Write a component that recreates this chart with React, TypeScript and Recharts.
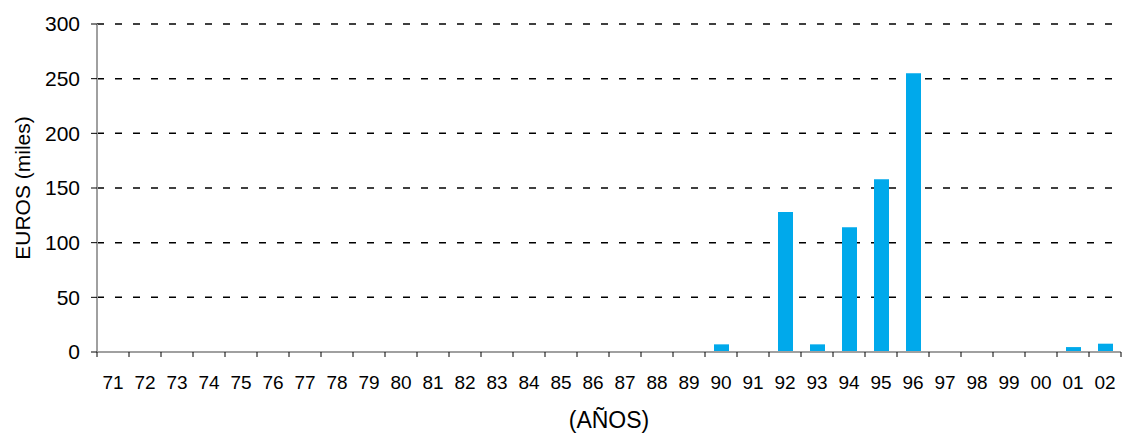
import { BarChart, Bar, XAxis, YAxis, CartesianGrid } from 'recharts'

const years = [
  '71', '72', '73', '74', '75', '76', '77', '78', '79', '80',
  '81', '82', '83', '84', '85', '86', '87', '88', '89', '90',
  '91', '92', '93', '94', '95', '96', '97', '98', '99', '00',
  '01', '02',
]
const euros = [
  0, 0, 0, 0, 0, 0, 0, 0, 0, 0,
  0, 0, 0, 0, 0, 0, 0, 0, 0, 7,
  0, 128, 7, 114, 158, 255, 0, 0, 0, 0,
  4.5, 7.6,
]
const yTicks = [0, 50, 100, 150, 200, 250, 300]

const data = years.map((y, i) => ({ year: y, value: euros[i] }))

const W = 1123
const H = 436
const PLOT_LEFT = 97
const PLOT_RIGHT = 1121
const HALF = (PLOT_RIGHT - PLOT_LEFT) / years.length / 2
const FONT = 'Liberation Sans, Arial, sans-serif'
const BORDER = '#a0a0a0'

function XTick(props: any) {
  const { x, y, payload, index } = props
  return (
    <g>
      {index === 0 && <line x1={x - HALF} x2={x - HALF} y1={y} y2={y + 5} stroke="#000" />}
      <line x1={x + HALF} x2={x + HALF} y1={y} y2={y + 5} stroke="#000" />
      <text x={x} y={y + 37} textAnchor="middle" fontSize={19} fontFamily={FONT} fill="#000">
        {payload.value}
      </text>
    </g>
  )
}

export default function App() {
  return (
    <div style={{ position: 'absolute', left: 0, top: 0, width: W, height: H, background: '#fff' }}>
      <BarChart width={W} height={H} data={data} margin={{ top: 24, right: 2, left: 0, bottom: 0 }}>
        <CartesianGrid vertical={false} stroke="#000" strokeWidth={1.5} strokeDasharray="7 11" />
        <XAxis
          dataKey="year"
          height={84}
          interval={0}
          axisLine={{ stroke: BORDER, strokeWidth: 2 }}
          tickLine={false}
          tickSize={0}
          tickMargin={0}
          tick={<XTick />}
          label={{
            value: '(AÑOS)',
            position: 'insideBottom',
            offset: 8,
            style: { fontSize: 23, fontFamily: FONT, fill: '#000' },
          }}
        />
        <XAxis
          xAxisId="top"
          dataKey="year"
          orientation="top"
          height={0}
          tick={false}
          tickLine={false}
          axisLine={{ stroke: BORDER, strokeWidth: 2 }}
        />
        <YAxis
          width={PLOT_LEFT}
          domain={[0, 300]}
          ticks={yTicks}
          interval={0}
          axisLine={{ stroke: BORDER, strokeWidth: 2 }}
          tickLine={{ stroke: '#000' }}
          tickSize={6}
          tickMargin={11}
          tick={{ fontSize: 21, fontFamily: FONT, fill: '#000' }}
          label={{
            content: (p: any) => {
              const vb = p.viewBox
              const cy = vb.y + vb.height / 2
              return (
                <text
                  x={22}
                  y={cy}
                  transform={`rotate(-90, 22, ${cy})`}
                  textAnchor="middle"
                  dominantBaseline="central"
                  fontSize={21}
                  fontFamily={FONT}
                  fill="#000"
                >
                  EUROS (miles)
                </text>
              )
            },
          }}
        />
        <YAxis
          yAxisId="right"
          orientation="right"
          width={0}
          domain={[0, 300]}
          tick={false}
          tickLine={false}
          axisLine={{ stroke: BORDER, strokeWidth: 2 }}
        />
        <Bar dataKey="value" fill="#00a9eb" barSize={15} isAnimationActive={false} />
      </BarChart>
    </div>
  )
}
